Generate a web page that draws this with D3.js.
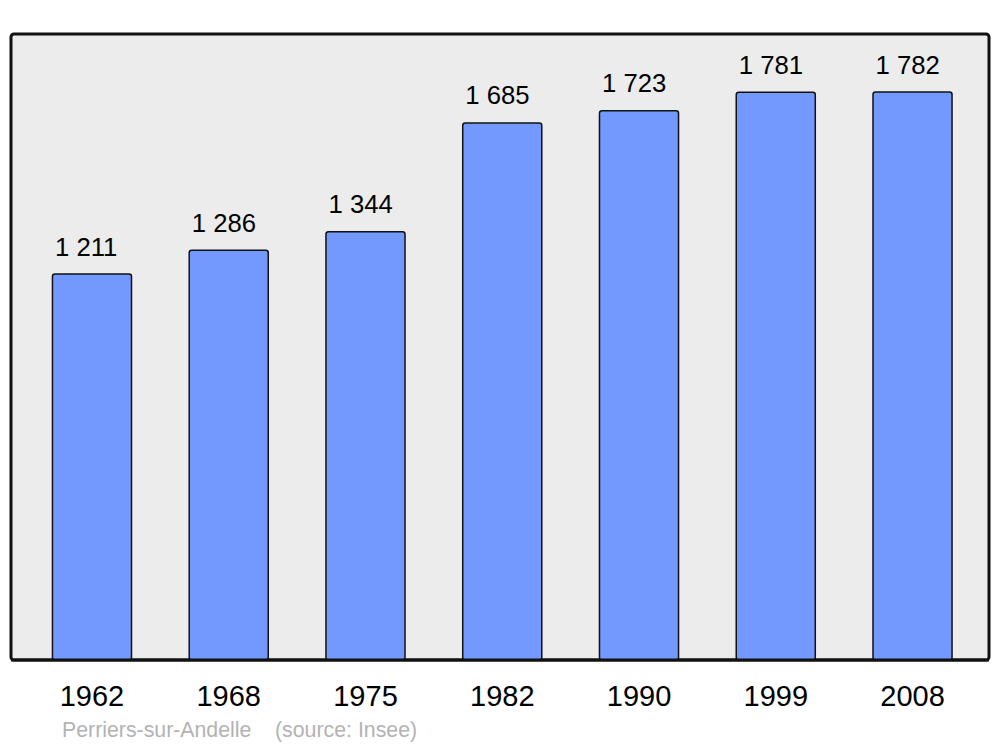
<!DOCTYPE html>
<html><head><meta charset="utf-8">
<script src="https://cdn.jsdelivr.net/npm/d3@7"></script>
<style>body{margin:0;background:#fff}svg{display:block}</style>
</head><body>
<script>
const years = ["1962","1968","1975","1982","1990","1999","2008"];
const population = [1211, 1286, 1344, 1685, 1723, 1781, 1782];
const valueLabels = ["1 211","1 286","1 344","1 685","1 723","1 781","1 782"];
const footer = "Perriers-sur-Andelle    (source: Insee)";

const W = 1000, H = 747;
const svg = d3.select("body").append("svg").attr("width", W).attr("height", H)
  .style("font-family", "'Liberation Sans', Arial, sans-serif");

svg.append("rect").attr("x", 11).attr("y", 34).attr("width", 978).attr("height", 626)
  .attr("rx", 3).attr("fill", "#ececec").attr("stroke", "#111").attr("stroke-width", 3);

const x = d3.scaleBand().domain(years).range([23.6, 980.9]).paddingInner(0.422).paddingOuter(0.211);
const y = d3.scaleLinear().domain([0, 1961]).range([660, 35]);

const data = years.map((yr, i) => ({yr, v: population[i], lab: valueLabels[i]}));

svg.selectAll("rect.bar").data(data).join("rect").attr("class", "bar")
  .attr("x", d => x(d.yr)).attr("y", d => y(d.v))
  .attr("width", x.bandwidth()).attr("height", d => y(0) - y(d.v))
  .attr("rx", 2.5).attr("fill", "#7399ff").attr("stroke", "#111").attr("stroke-width", 1.5);

svg.selectAll("text.val").data(data).join("text").attr("class", "val")
  .attr("x", d => x(d.yr) + 2.5).attr("y", d => y(d.v) - 18.5)
  .attr("font-size", 25.7).attr("fill", "#000").text(d => d.lab);

svg.append("line").attr("x1", 11).attr("x2", 989).attr("y1", 660).attr("y2", 660)
  .attr("stroke", "#111").attr("stroke-width", 3);

const xAxis = d3.axisBottom(x).tickSize(0).tickPadding(0);
const gx = svg.append("g").attr("transform", "translate(0,705.5)").call(xAxis);
gx.select(".domain").remove();
gx.selectAll("text").attr("font-size", 29).attr("fill", "#000")
  .attr("font-family", "'Liberation Sans', Arial, sans-serif").attr("dy", 0);

svg.append("text").attr("x", 62).attr("y", 737).attr("font-size", 21.3)
  .attr("fill", "#b3b3b3").attr("xml:space", "preserve").style("white-space", "pre").text(footer);
</script>
</body></html>
